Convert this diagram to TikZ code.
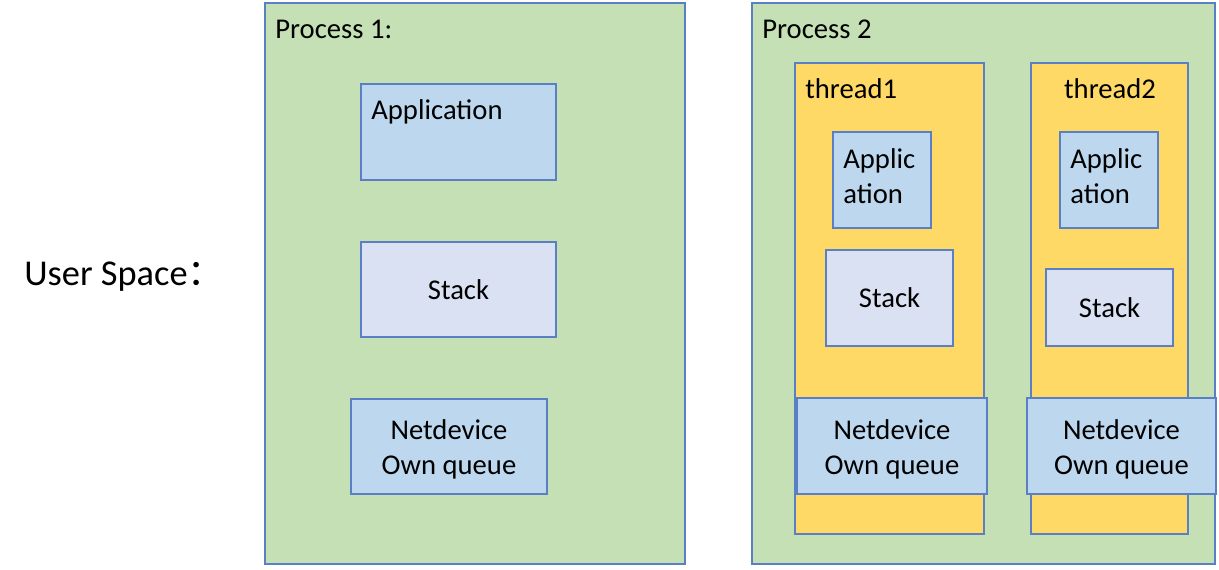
\documentclass[tikz,border=0pt]{standalone}
\usepackage{fontspec}
\setmainfont{Carlito}
\newfontfamily\cjk{Noto Sans CJK SC}
\usetikzlibrary{positioning, fit}
\definecolor{edgeblue}{HTML}{5B7FC4}
\definecolor{procgreen}{HTML}{C5E0B4}
\definecolor{threadyellow}{HTML}{FFD966}
\definecolor{blockblue}{HTML}{BDD7EE}
\definecolor{stacklav}{HTML}{DAE1F3}
\tikzset{
    % Container styles
    proc/.style={rectangle, draw=edgeblue, fill=procgreen, line width=0.6pt, inner sep=0pt},
    thread box/.style={proc, fill=threadyellow},
    % Block styles
    block/.style={rectangle, draw=edgeblue, fill=blockblue, line width=0.6pt, inner sep=0pt,
                  align=center, font=\fontsize{16.3}{20}\selectfont},
    stack block/.style={block, fill=stacklav},
    % Text styles
    txt/.style={inner sep=0pt, font=\fontsize{16.3}{17}\selectfont},
    two lines/.style={txt, align=center, font=\fontsize{16.3}{20}\selectfont, yshift=-0.06cm},
}

\begin{document}
\begin{tikzpicture}[x=0.02cm, y=-0.02cm]
    \useasboundingbox (0, 0) rectangle (1219, 569);

    % User space label
    \node[txt, anchor=base west, font=\fontsize{20.7}{24}\selectfont] (us) at (24, 285)
        {User Space{\cjk ：}};

    % Process 1
    \node[proc, fit={(265, 3) (685, 564)}] (p1) {};
    \node[txt, anchor=base west] (p1l) at (275, 38) {Process 1:};
    \node[block, fit={(361, 84) (556, 180)}] (app1) {};
    \node[txt, anchor=base west] (app1l) at (371, 119) {Application};
    \node[stack block, fit={(361, 242) (556, 337)}] (stk1) {};
    \node[txt] at (stk1.center) {Stack};
    \node[block, fit={(351, 399) (547, 494)}] (nd1) {};
    \node[two lines] at (nd1.center) {Netdevice\\Own queue};

    % Process 2
    \node[proc, fit={(752, 3) (1215, 564)}] (p2) {};
    \node[txt, anchor=base west] (p2l) at (762, 38) {Process 2};

    % thread1
    \node[thread box, fit={(795, 63) (984, 534)}] (t1) {};
    \node[txt, anchor=base west] (t1l) at (805, 98) {thread1};
    \node[block, fit={(833, 132) (931, 228)}] (app2) {};
    \node[txt, anchor=west, align=left, font=\fontsize{16.3}{20}\selectfont] at (843, 176) {Applic\\ation};
    \node[stack block, fit={(826, 250) (953, 346)}] (stk2) {};
    \node[txt] at (stk2.center) {Stack};
    \node[block, fit={(797, 398) (987, 494)}] (nd2) {};
    \node[two lines] at (nd2.center) {Netdevice\\Own queue};

    % thread2
    \node[thread box, fit={(1031, 63) (1188, 534)}] (t2) {};
    \node[txt, anchor=base] (t2l) at (1110, 98) {thread2};
    \node[block, fit={(1060, 132) (1158, 228)}] (app3) {};
    \node[txt, anchor=west, align=left, font=\fontsize{16.3}{20}\selectfont] at (1070, 176) {Applic\\ation};
    \node[stack block, fit={(1046, 269) (1173, 346)}] (stk3) {};
    \node[txt] at (stk3.center) {Stack};
    \node[block, fit={(1027, 398) (1216, 494)}] (nd3) {};
    \node[two lines] at (nd3.center) {Netdevice\\Own queue};
\end{tikzpicture}
\end{document}
